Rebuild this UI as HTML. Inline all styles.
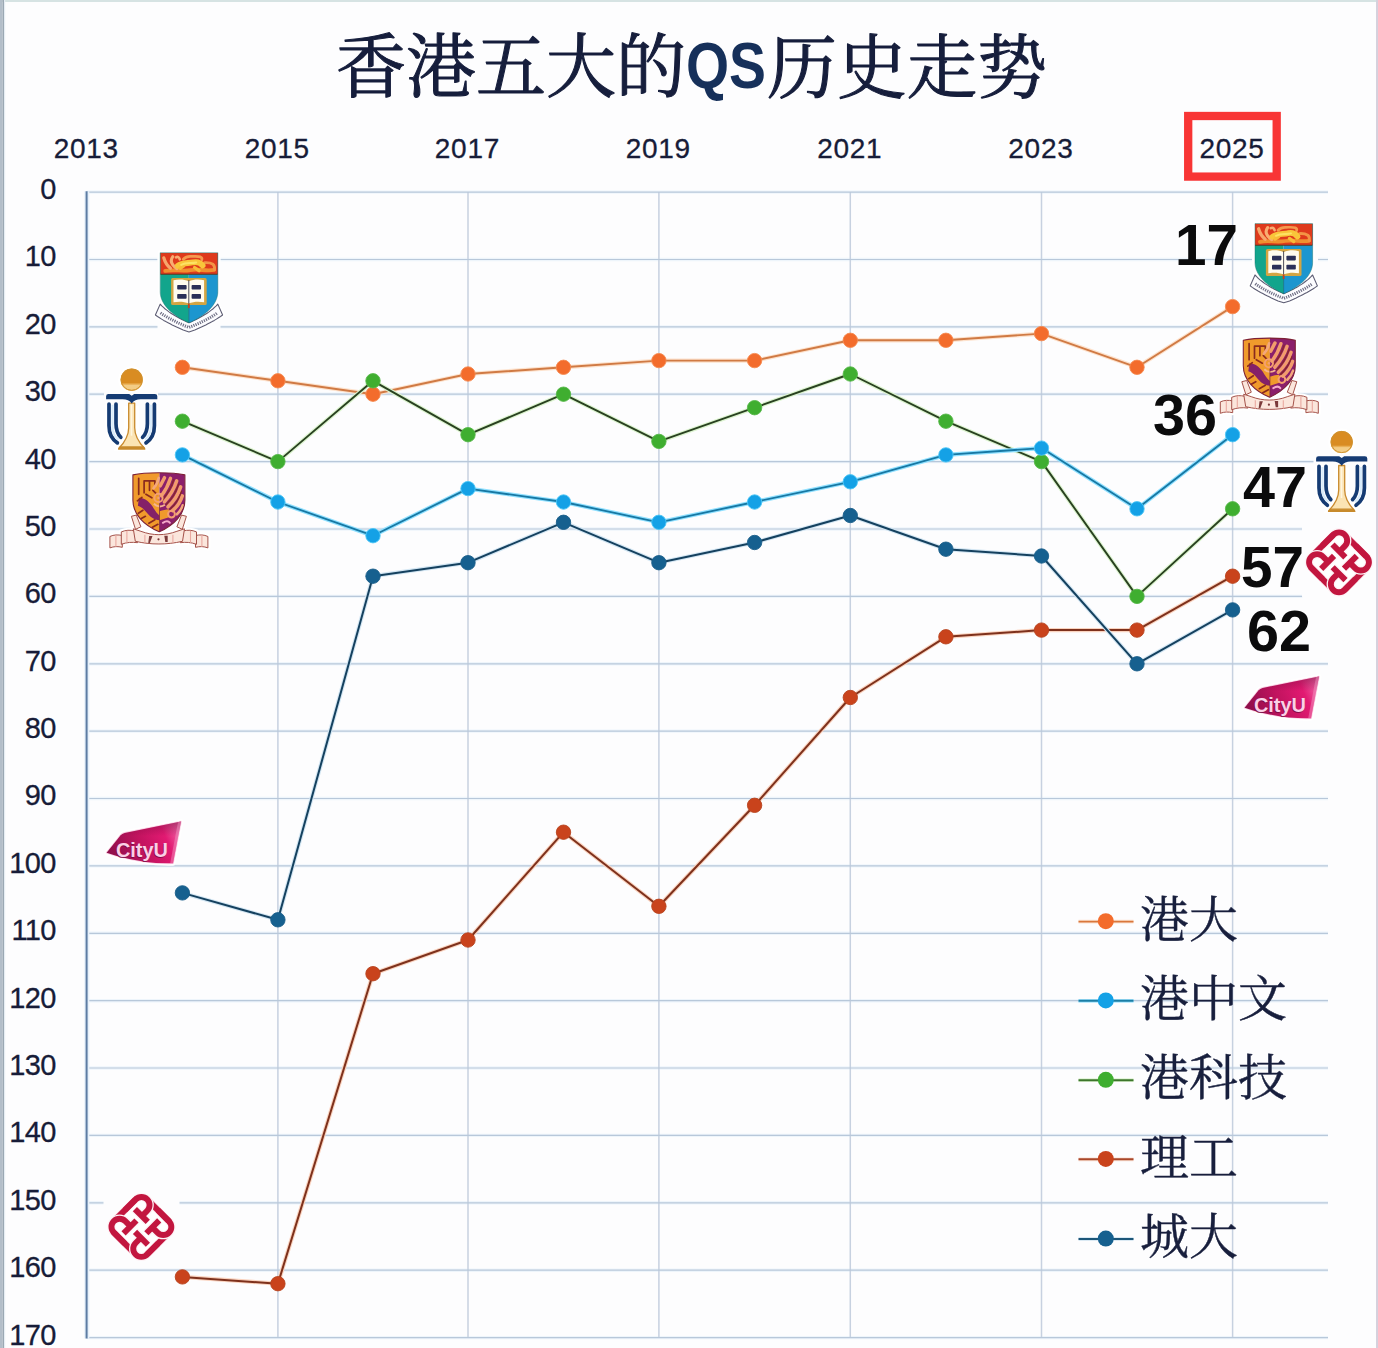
<!DOCTYPE html>
<html lang="zh">
<head>
<meta charset="utf-8">
<title>香港五大的QS历史走势</title>
<style>
html,body{margin:0;padding:0;background:#fdfdfe;}
body{width:1378px;height:1348px;overflow:hidden;font-family:"Liberation Sans",sans-serif;}
svg{display:block;}
</style>
</head>
<body>
<svg width="1378" height="1348" viewBox="0 0 1378 1348" role="img" aria-label="香港五大的QS历史走势 — QS ranking trend 2014-2025 for HKU, CUHK, HKUST, PolyU and CityU">
<rect width="1378" height="1348" fill="#fdfdfe"/>
<rect x="0" y="0" width="1378" height="2" fill="#d6e3e3"/>
<rect x="0" y="0" width="2.6" height="1348" fill="#b3bec9"/>
<rect x="2.6" y="0" width="1.4" height="1348" fill="#9ba8b3"/>
<rect x="4" y="0" width="1.2" height="1348" fill="#e6edf3"/>
<rect x="1376" y="0" width="2" height="1348" fill="#d6d1dd"/>
<path d="M86.8 192.1H1328.0M86.8 259.5H1328.0M86.8 326.9H1328.0M86.8 394.2H1328.0M86.8 461.6H1328.0M86.8 529.0H1328.0M86.8 596.4H1328.0M86.8 663.8H1328.0M86.8 731.1H1328.0M86.8 798.5H1328.0M86.8 865.9H1328.0M86.8 933.3H1328.0M86.8 1000.7H1328.0M86.8 1068.0H1328.0M86.8 1135.4H1328.0M86.8 1202.8H1328.0M86.8 1270.2H1328.0M86.8 1337.6H1328.0" stroke="#eef5fb" stroke-width="3.4" fill="none"/>
<path d="M277.9 192.1V1337.6M468.0 192.1V1337.6M658.9 192.1V1337.6M850.3 192.1V1337.6M1041.5 192.1V1337.6M1232.6 192.1V1337.6" stroke="#c7d1e0" stroke-width="1.5" fill="none"/>
<path d="M86.8 192.1H1328.0M86.8 259.5H1328.0M86.8 326.9H1328.0M86.8 394.2H1328.0M86.8 461.6H1328.0M86.8 529.0H1328.0M86.8 596.4H1328.0M86.8 663.8H1328.0M86.8 731.1H1328.0M86.8 798.5H1328.0M86.8 865.9H1328.0M86.8 933.3H1328.0M86.8 1000.7H1328.0M86.8 1068.0H1328.0M86.8 1135.4H1328.0M86.8 1202.8H1328.0M86.8 1270.2H1328.0M86.8 1337.6H1328.0" stroke="#b8c8da" stroke-width="1.2" fill="none"/>
<path d="M86.8 191.3V1338.4" stroke="#e6f0fa" stroke-width="5" fill="none"/>
<path d="M86.6 191.3V1338.4" stroke="#5d7ca3" stroke-width="2" fill="none"/>
<g fill="#fdfdfe"><rect x="157.5" y="250" width="63" height="82" rx="3"/><rect x="104" y="366" width="54" height="86" rx="3"/><rect x="130.5" y="470" width="57" height="72" rx="3"/><rect x="103.5" y="1189" width="76" height="75" rx="3"/><rect x="104" y="818" width="80" height="46" rx="3"/><rect x="1252" y="221" width="66" height="84" rx="3"/><rect x="1241" y="336" width="57" height="72" rx="3"/><rect x="1313.5" y="428" width="62" height="88" rx="3"/><rect x="1302" y="525" width="74" height="74" rx="3"/><rect x="1242" y="674" width="80" height="46" rx="3"/></g>
<g font-family="'Liberation Sans', sans-serif" font-size="28" fill="#171c38" stroke="#171c38" stroke-width="0.3" letter-spacing="0.7">
<text x="86.2" y="157.8" text-anchor="middle">2013</text>
<text x="277.3" y="157.8" text-anchor="middle">2015</text>
<text x="467.4" y="157.8" text-anchor="middle">2017</text>
<text x="658.3" y="157.8" text-anchor="middle">2019</text>
<text x="849.7" y="157.8" text-anchor="middle">2021</text>
<text x="1040.9" y="157.8" text-anchor="middle">2023</text>
<text x="1232.0" y="157.8" text-anchor="middle">2025</text>
</g>
<g font-family="'Liberation Sans', sans-serif" font-size="29" fill="#171c38" stroke="#171c38" stroke-width="0.3" letter-spacing="-0.6" text-anchor="end">
<text x="55.9" y="199.0">0</text>
<text x="55.9" y="266.4">10</text>
<text x="55.9" y="333.8">20</text>
<text x="55.9" y="401.1">30</text>
<text x="55.9" y="468.5">40</text>
<text x="55.9" y="535.9">50</text>
<text x="55.9" y="603.3">60</text>
<text x="55.9" y="670.7">70</text>
<text x="55.9" y="738.0">80</text>
<text x="55.9" y="805.4">90</text>
<text x="55.9" y="872.8">100</text>
<text x="55.9" y="940.2">110</text>
<text x="55.9" y="1007.6">120</text>
<text x="55.9" y="1074.9">130</text>
<text x="55.9" y="1142.3">140</text>
<text x="55.9" y="1209.7">150</text>
<text x="55.9" y="1277.1">160</text>
<text x="55.9" y="1344.5">170</text>
</g>
<path d="M182.4 367.3L277.9 380.8L373.0 394.2L468.0 374.0L563.5 367.3L658.9 360.6L754.6 360.6L850.3 340.3L945.9 340.3L1041.5 333.6L1137.0 367.3L1232.6 306.6" stroke="#fde2cd" stroke-width="4.2" fill="none" stroke-linejoin="round"/>
<path d="M182.4 367.3L277.9 380.8L373.0 394.2L468.0 374.0L563.5 367.3L658.9 360.6L754.6 360.6L850.3 340.3L945.9 340.3L1041.5 333.6L1137.0 367.3L1232.6 306.6" stroke="#d07a44" stroke-width="1.9" fill="none" stroke-linejoin="round"/>
<g fill="#f36c2c" stroke="#f58a50" stroke-width="0.9"><circle cx="182.4" cy="367.3" r="7.2"/><circle cx="277.9" cy="380.8" r="7.2"/><circle cx="373.0" cy="394.2" r="7.2"/><circle cx="468.0" cy="374.0" r="7.2"/><circle cx="563.5" cy="367.3" r="7.2"/><circle cx="658.9" cy="360.6" r="7.2"/><circle cx="754.6" cy="360.6" r="7.2"/><circle cx="850.3" cy="340.3" r="7.2"/><circle cx="945.9" cy="340.3" r="7.2"/><circle cx="1041.5" cy="333.6" r="7.2"/><circle cx="1137.0" cy="367.3" r="7.2"/><circle cx="1232.6" cy="306.6" r="7.2"/></g>
<path d="M182.4 421.2L277.9 461.6L373.0 380.8L468.0 434.7L563.5 394.2L658.9 441.4L754.6 407.7L850.3 374.0L945.9 421.2L1041.5 461.6L1137.0 596.4L1232.6 508.8" stroke="#dcf4cf" stroke-width="4.2" fill="none" stroke-linejoin="round"/>
<path d="M182.4 421.2L277.9 461.6L373.0 380.8L468.0 434.7L563.5 394.2L658.9 441.4L754.6 407.7L850.3 374.0L945.9 421.2L1041.5 461.6L1137.0 596.4L1232.6 508.8" stroke="#294120" stroke-width="1.9" fill="none" stroke-linejoin="round"/>
<g fill="#3fae30" stroke="#56b848" stroke-width="0.9"><circle cx="182.4" cy="421.2" r="7.2"/><circle cx="277.9" cy="461.6" r="7.2"/><circle cx="373.0" cy="380.8" r="7.2"/><circle cx="468.0" cy="434.7" r="7.2"/><circle cx="563.5" cy="394.2" r="7.2"/><circle cx="658.9" cy="441.4" r="7.2"/><circle cx="754.6" cy="407.7" r="7.2"/><circle cx="850.3" cy="374.0" r="7.2"/><circle cx="945.9" cy="421.2" r="7.2"/><circle cx="1041.5" cy="461.6" r="7.2"/><circle cx="1137.0" cy="596.4" r="7.2"/><circle cx="1232.6" cy="508.8" r="7.2"/></g>
<path d="M182.4 454.9L277.9 502.0L373.0 535.7L468.0 488.6L563.5 502.0L658.9 522.3L754.6 502.0L850.3 481.8L945.9 454.9L1041.5 448.1L1137.0 508.8L1232.6 434.7" stroke="#8fe0ff" stroke-width="4.2" fill="none" stroke-linejoin="round"/>
<path d="M182.4 454.9L277.9 502.0L373.0 535.7L468.0 488.6L563.5 502.0L658.9 522.3L754.6 502.0L850.3 481.8L945.9 454.9L1041.5 448.1L1137.0 508.8L1232.6 434.7" stroke="#1778a4" stroke-width="1.8" fill="none" stroke-linejoin="round"/>
<g fill="#14a1e6" stroke="#4cc6f6" stroke-width="0.9"><circle cx="182.4" cy="454.9" r="7.2"/><circle cx="277.9" cy="502.0" r="7.2"/><circle cx="373.0" cy="535.7" r="7.2"/><circle cx="468.0" cy="488.6" r="7.2"/><circle cx="563.5" cy="502.0" r="7.2"/><circle cx="658.9" cy="522.3" r="7.2"/><circle cx="754.6" cy="502.0" r="7.2"/><circle cx="850.3" cy="481.8" r="7.2"/><circle cx="945.9" cy="454.9" r="7.2"/><circle cx="1041.5" cy="448.1" r="7.2"/><circle cx="1137.0" cy="508.8" r="7.2"/><circle cx="1232.6" cy="434.7" r="7.2"/></g>
<path d="M182.4 1276.9L277.9 1283.7L373.0 973.7L468.0 940.0L563.5 832.2L658.9 906.3L754.6 805.3L850.3 697.5L945.9 636.8L1041.5 630.1L1137.0 630.1L1232.6 576.2" stroke="#fad3bf" stroke-width="4.2" fill="none" stroke-linejoin="round"/>
<path d="M182.4 1276.9L277.9 1283.7L373.0 973.7L468.0 940.0L563.5 832.2L658.9 906.3L754.6 805.3L850.3 697.5L945.9 636.8L1041.5 630.1L1137.0 630.1L1232.6 576.2" stroke="#7e311c" stroke-width="2.0" fill="none" stroke-linejoin="round"/>
<g fill="#c9431c" stroke="#b8441f" stroke-width="0.9"><circle cx="182.4" cy="1276.9" r="7.2"/><circle cx="277.9" cy="1283.7" r="7.2"/><circle cx="373.0" cy="973.7" r="7.2"/><circle cx="468.0" cy="940.0" r="7.2"/><circle cx="563.5" cy="832.2" r="7.2"/><circle cx="658.9" cy="906.3" r="7.2"/><circle cx="754.6" cy="805.3" r="7.2"/><circle cx="850.3" cy="697.5" r="7.2"/><circle cx="945.9" cy="636.8" r="7.2"/><circle cx="1041.5" cy="630.1" r="7.2"/><circle cx="1137.0" cy="630.1" r="7.2"/><circle cx="1232.6" cy="576.2" r="7.2"/></g>
<path d="M182.4 892.9L277.9 919.8L373.0 576.2L468.0 562.7L563.5 522.3L658.9 562.7L754.6 542.5L850.3 515.5L945.9 549.2L1041.5 556.0L1137.0 663.8L1232.6 609.9" stroke="#d3e6f3" stroke-width="4.2" fill="none" stroke-linejoin="round"/>
<path d="M182.4 892.9L277.9 919.8L373.0 576.2L468.0 562.7L563.5 522.3L658.9 562.7L754.6 542.5L850.3 515.5L945.9 549.2L1041.5 556.0L1137.0 663.8L1232.6 609.9" stroke="#15415f" stroke-width="2.0" fill="none" stroke-linejoin="round"/>
<g fill="#16608f" stroke="#1b5f8a" stroke-width="0.9"><circle cx="182.4" cy="892.9" r="7.2"/><circle cx="277.9" cy="919.8" r="7.2"/><circle cx="373.0" cy="576.2" r="7.2"/><circle cx="468.0" cy="562.7" r="7.2"/><circle cx="563.5" cy="522.3" r="7.2"/><circle cx="658.9" cy="562.7" r="7.2"/><circle cx="754.6" cy="542.5" r="7.2"/><circle cx="850.3" cy="515.5" r="7.2"/><circle cx="945.9" cy="549.2" r="7.2"/><circle cx="1041.5" cy="556.0" r="7.2"/><circle cx="1137.0" cy="663.8" r="7.2"/><circle cx="1232.6" cy="609.9" r="7.2"/></g>
<g aria-label="香港五大的QS历史走势"><title>香港五大的QS历史走势</title>
<g font-family="'Liberation Serif', 'Noto Serif CJK SC', serif" font-size="70" fill="#161e3c" stroke="#161e3c" stroke-width="1.1" stroke-linejoin="round">
<text x="336" y="91.5">香港五大的</text>
<text x="767" y="92.6">历史走势</text>
</g>
<text x="686" y="88" font-family="'Liberation Sans', sans-serif" font-weight="bold" font-size="64" fill="#16305a" textLength="80" lengthAdjust="spacingAndGlyphs">QS</text>
</g>
<g><g aria-label="港大"><title>港大</title><path d="M1078.5 921.6H1133.5" stroke="#fde4d2" stroke-width="3.8"/><path d="M1078.5 921.6H1133.5" stroke="#d9773c" stroke-width="1.9"/><circle cx="1105.8" cy="921.2" r="8" fill="#f36c2c"/><text x="1140" y="936.5" font-family="'Liberation Serif', 'Noto Serif CJK SC', serif" font-size="49" fill="#181f3d" stroke="#181f3d" stroke-width="0.4">港大</text></g><g aria-label="港中文"><title>港中文</title><path d="M1078.5 1000.8H1133.5" stroke="#a8e7ff" stroke-width="3.8"/><path d="M1078.5 1000.8H1133.5" stroke="#1b7ea6" stroke-width="1.9"/><circle cx="1105.8" cy="1000.4" r="8" fill="#14a1e6"/><text x="1140" y="1015.7" font-family="'Liberation Serif', 'Noto Serif CJK SC', serif" font-size="49" fill="#181f3d" stroke="#181f3d" stroke-width="0.4">港中文</text></g><g aria-label="港科技"><title>港科技</title><path d="M1078.5 1080.2H1133.5" stroke="#def3d3" stroke-width="3.8"/><path d="M1078.5 1080.2H1133.5" stroke="#3d762b" stroke-width="1.9"/><circle cx="1105.8" cy="1079.8" r="8" fill="#3fae30"/><text x="1140" y="1095.1" font-family="'Liberation Serif', 'Noto Serif CJK SC', serif" font-size="49" fill="#181f3d" stroke="#181f3d" stroke-width="0.4">港科技</text></g><g aria-label="理工"><title>理工</title><path d="M1078.5 1159.3H1133.5" stroke="#fbe0d2" stroke-width="3.8"/><path d="M1078.5 1159.3H1133.5" stroke="#a9472a" stroke-width="1.9"/><circle cx="1105.8" cy="1158.9" r="8" fill="#c9431c"/><text x="1140" y="1174.5" font-family="'Liberation Serif', 'Noto Serif CJK SC', serif" font-size="49" fill="#181f3d" stroke="#181f3d" stroke-width="0.4">理工</text></g><g aria-label="城大"><title>城大</title><path d="M1078.5 1239.0H1133.5" stroke="#dbeaf4" stroke-width="3.8"/><path d="M1078.5 1239.0H1133.5" stroke="#1c5679" stroke-width="1.9"/><circle cx="1105.8" cy="1238.6" r="8" fill="#16608f"/><text x="1140" y="1254" font-family="'Liberation Serif', 'Noto Serif CJK SC', serif" font-size="49" fill="#181f3d" stroke="#181f3d" stroke-width="0.4">城大</text></g></g>
<g fill="#0b0b0c" font-family="'Liberation Sans', sans-serif" font-weight="bold" font-size="57">
<text x="1175" y="264.9" textLength="63" lengthAdjust="spacingAndGlyphs">17</text>
<text x="1153" y="435" textLength="64" lengthAdjust="spacingAndGlyphs">36</text>
<text x="1243" y="506.9" textLength="64" lengthAdjust="spacingAndGlyphs">47</text>
<text x="1241" y="587.4" textLength="63" lengthAdjust="spacingAndGlyphs">57</text>
<text x="1247" y="651" textLength="64" lengthAdjust="spacingAndGlyphs">62</text>
</g><rect x="1188.2" y="116" width="88.5" height="60.6" fill="none" stroke="#f83535" stroke-width="8.3"/>
<defs>
<g id="hku">
 <path d="M0 0H57.6V39C57.6 52 45 63 28.8 70.1C12.6 63 0 52 0 39Z" fill="#fff" stroke="#fff" stroke-width="5" stroke-linejoin="round"/>
 <path d="M-4.8 62.3L-2.7 63.8L-0.7 65.1L1.4 66.4L3.5 67.7L5.6 68.9L7.8 70.0L9.9 71.1L12.0 72.2L14.2 73.2L16.4 74.3L18.6 75.3L20.8 76.3L23.0 77.3L28.8 79.2L34.6 77.3L36.8 76.3L39.0 75.3L41.2 74.3L43.4 73.2L45.6 72.2L47.7 71.1L49.8 70.0L52.0 68.9L54.1 67.7L56.2 66.4L58.3 65.1L60.3 63.8L62.4 62.3L57.6 51.4L56.0 53.1L54.3 54.7L52.6 56.3L50.7 57.7L48.8 59.2L46.9 60.5L44.8 61.8L42.7 63.1L40.5 64.3L38.3 65.6L36.0 66.7L33.6 67.9L31.2 69.0L28.8 70.1L26.4 69.0L24.0 67.9L21.6 66.7L19.3 65.6L17.1 64.3L14.9 63.1L12.8 61.8L10.7 60.5L8.8 59.2L6.9 57.7L5.0 56.3L3.3 54.7L1.6 53.1L-0.0 51.4Z" fill="#fff" stroke="#fff" stroke-width="4.5" stroke-linejoin="round"/>
 <path d="M-4.8 62.3L-2.7 63.8L-0.7 65.1L1.4 66.4L3.5 67.7L5.6 68.9L7.8 70.0L9.9 71.1L12.0 72.2L14.2 73.2L16.4 74.3L18.6 75.3L20.8 76.3L23.0 77.3L28.8 79.2L34.6 77.3L36.8 76.3L39.0 75.3L41.2 74.3L43.4 73.2L45.6 72.2L47.7 71.1L49.8 70.0L52.0 68.9L54.1 67.7L56.2 66.4L58.3 65.1L60.3 63.8L62.4 62.3L57.6 51.4L56.0 53.1L54.3 54.7L52.6 56.3L50.7 57.7L48.8 59.2L46.9 60.5L44.8 61.8L42.7 63.1L40.5 64.3L38.3 65.6L36.0 66.7L33.6 67.9L31.2 69.0L28.8 70.1L26.4 69.0L24.0 67.9L21.6 66.7L19.3 65.6L17.1 64.3L14.9 63.1L12.8 61.8L10.7 60.5L8.8 59.2L6.9 57.7L5.0 56.3L3.3 54.7L1.6 53.1L-0.0 51.4Z" fill="#fdfdff" stroke="#5d5d74" stroke-width="1.1" stroke-linejoin="round"/>
 <path d="M0.3 60.2L2.1 61.5L3.9 62.6L5.7 63.7L7.5 64.8L9.4 65.8L11.3 66.8L13.2 67.8L15.1 68.7L17.0 69.7L19.0 70.6L21.0 71.5L23.0 72.4L25.0 73.3L28.8 74.7L32.6 73.3L34.6 72.4L36.6 71.5L38.6 70.6L40.6 69.7L42.5 68.7L44.4 67.8L46.3 66.8L48.2 65.8L50.1 64.8L51.9 63.7L53.7 62.6L55.5 61.5L57.3 60.2" fill="none" stroke="#707086" stroke-width="3.0" stroke-dasharray="1.2 1.1"/>
 <clipPath id="hkuSh"><path d="M0 0H57.6V39C57.6 52 45 63 28.8 70.1C12.6 63 0 52 0 39Z"/></clipPath>
 <g clip-path="url(#hkuSh)">
  <rect x="-1" y="0" width="29.6" height="72" fill="#12a58c"/>
  <rect x="28.6" y="0" width="30" height="72" fill="#1c96cf"/>
  <rect x="-1" y="-1" width="60" height="22.4" fill="#df3a1c"/>
  <path d="M0 21.6H57.6" stroke="#5a3a20" stroke-width="1.1"/>
  <path d="M28.6 52V71" stroke="#0d6f78" stroke-width="0.8"/>
 </g>
 <g fill="none" stroke-linecap="round" stroke-linejoin="round">
  <path d="M5 18.2C14 16.4 22 19 30 17.4C38 16 46 18.6 54 17.2" stroke="#f0902f" stroke-width="3.8"/>
  <path d="M3.6 5.2C4.8 9.4 7 13 10.2 15.6" stroke="#f7a66c" stroke-width="3.3"/>
  <path d="M12.6 4C10.8 6.5 10.8 9.8 12.6 12.2C13.8 13.8 15.2 15 16.8 16" stroke="#f8ad72" stroke-width="3.1"/>
  <path d="M15.8 4.6C17.4 3.6 19 4.4 19.6 6.6" stroke="#f8ad72" stroke-width="2.6"/>
  <path d="M23 6.6C25 4.6 27.6 3.6 30.4 3.7C33.8 3.8 37 3.2 40.2 4.2C41.6 4.8 42 5.8 41.6 7" stroke="#f59a4e" stroke-width="2.7"/>
  <path d="M44.4 10C47.6 9.8 50.6 10.2 52.8 11.6C54.4 13 54.6 15 54.2 17" stroke="#f39445" stroke-width="2.9"/>
  <path d="M17.6 13.2C22 9.8 28 10.8 33 9.6C37 8.8 40.4 10.2 42.4 12.8" stroke="#f9c53a" stroke-width="5.8"/>
  <path d="M20 15.6L23.6 13.2M34.4 14.8L38.8 18" stroke="#f8bb38" stroke-width="3.3"/>
  <path d="M21 12.2C26 9.6 31 11 36 9.8" stroke="#fde264" stroke-width="2"/>
 </g>
 <rect x="10.9" y="25.4" width="35.6" height="27" rx="1.6" fill="#d3a542"/>
 <path d="M13.3 27.6C18.5 26.2 24 26.6 28.6 28.6C33.2 26.6 38.7 26.2 43.9 27.6V49.6C38.7 48.6 33.2 48.9 28.6 50.6C24 48.9 18.5 48.6 13.3 49.6Z" fill="#fffcef"/>
 <path d="M28.6 27.5V51" stroke="#3a3a4a" stroke-width="0.9"/>
 <g fill="#2b3058"><rect x="17" y="32.2" width="9.4" height="4.6" rx="0.8"/><rect x="31.4" y="32.2" width="9.4" height="4.6" rx="0.8"/><rect x="17" y="41.2" width="9.4" height="4.8" rx="0.8"/><rect x="31.4" y="41.2" width="9.4" height="4.8" rx="0.8"/></g>
 <path d="M28.6 51V55.4" stroke="#c8401e" stroke-width="1.8"/>
 <path d="M0 0H57.6V39C57.6 52 45 63 28.8 70.1C12.6 63 0 52 0 39Z" fill="none" stroke="#0f6e6a" stroke-opacity="0.55" stroke-width="0.8"/>
</g>
<g id="ust">
 <g fill="none" stroke="#fff" stroke-width="7.5" stroke-linecap="round"><path d="M-22.7 24.5V46C-22.7 55 -19 60 -14.3 63.5M22.7 24.5V46C22.7 55 19 60 14.3 63.5"/></g>
 <circle cx="0" cy="0" r="13.4" fill="#fff"/>
 <path d="M-15 69.6C-9 63 -6 57 -6 50V28H6V50C6 57 9 63 15 69.6Z" fill="#fff" stroke="#fff" stroke-width="3"/>
 <circle cx="0" cy="0" r="11.1" fill="#d98c22"/>
 <path d="M-10.2 4.4A11.1 11.1 0 0 0 10.2 4.4Z" fill="#f3cd86"/>
 <path d="M-10.2 4.4H10.2" stroke="#e9b055" stroke-width="1.4"/>
 <circle cx="0" cy="0" r="10.6" fill="none" stroke="#cf922f" stroke-width="1"/>
 <path d="M-3 23.5V48C-3 57 -7.5 63 -12.8 68.6H12.8C7.5 63 3 57 3 48V23.5Z" fill="#fbe4b4" stroke="#c98a2d" stroke-width="1.3" stroke-linejoin="round"/>
 <path d="M-11.6 67.2H11.6L13.2 69.4H-13.2Z" fill="#c78a2c" stroke="#c78a2c" stroke-width="1.2" stroke-linejoin="round"/>
 <path d="M-0.2 25V56" stroke="#fff6df" stroke-width="1.6"/>
 <path d="M-23.2 14.2H-2.5L0 16L2.5 14.2H23.2A2.4 2.4 0 0 1 25.6 16.6V19.6H9C5 19.6 2 21 0 23.8C-2 21 -5 19.6 -9 19.6H-25.6V16.6A2.4 2.4 0 0 1 -23.2 14.2Z" fill="#153b73"/>
 <g fill="none" stroke="#153b73" stroke-width="3.7" stroke-linecap="round">
  <path d="M-22.7 24.3V46C-22.7 55 -19 60 -14.3 63.2"/><path d="M-15.7 24.3V44C-15.7 51 -13.4 55 -10.9 57.6"/>
  <path d="M22.7 24.3V46C22.7 55 19 60 14.3 63.2"/><path d="M15.7 24.3V44C15.7 51 13.4 55 10.9 57.6"/>
 </g>
 <g fill="none" stroke="#d9ecfb" stroke-width="2.2"><path d="M-19.2 25V47C-19.2 53.5 -16.5 57.5 -13.2 60"/><path d="M19.2 25V47C19.2 53.5 16.5 57.5 13.2 60"/></g>
</g>
<g id="cuhk">
 <path d="M0 1.6C8 -0.3 18 -0.6 26 -0.6C34 -0.6 44 -0.3 52 1.6V27C52 41 41 52 26.4 58.5C11 52 0 41 0 27Z" fill="#fff" stroke="#fff" stroke-width="5" stroke-linejoin="round"/>
 <g fill="#fff" stroke="#fff" stroke-width="5" stroke-linejoin="round">
  <path d="M-1.5 43L3.4 41.8L8 53.5L2.6 56Z"/><path d="M53.5 43L48.6 41.8L44 53.5L49.4 56Z"/>
  <path d="M-23 63.2C-19 61.3 -15 61.3 -10.6 62.2V74C-15 73 -19 73 -23 74.6Z"/>
  <path d="M75 63.2C71 61.3 67 61.3 62.6 62.2V74C67 73 71 73 75 74.6Z"/>
  <path d="M-11.6 58.6C-7 56.6 -3 56.6 1.8 57.6L4.6 69.4C-1 68.6 -6 69 -11.6 71Z"/>
  <path d="M63.6 58.6C59 56.6 55 56.6 50.2 57.6L47.4 69.4C53 68.6 58 69 63.6 71Z"/>
  <path d="M0.4 55.5L8 58C20 62.5 32 62.5 44 58L51.6 55.5L49.6 68C34 71.6 18 71.6 2.4 68Z"/>
 </g>
 <g fill="#fbe6dc" stroke="#a4524a" stroke-width="1" stroke-linejoin="round">
  <path d="M-1.5 43L3.4 41.8L8 53.5L2.6 56Z"/><path d="M53.5 43L48.6 41.8L44 53.5L49.4 56Z"/>
  <path d="M-23 63.2C-19 61.3 -15 61.3 -10.6 62.2V74C-15 73 -19 73 -23 74.6Z"/>
  <path d="M75 63.2C71 61.3 67 61.3 62.6 62.2V74C67 73 71 73 75 74.6Z"/>
  <path d="M-11.6 58.6C-7 56.6 -3 56.6 1.8 57.6L4.6 69.4C-1 68.6 -6 69 -11.6 71Z"/>
  <path d="M63.6 58.6C59 56.6 55 56.6 50.2 57.6L47.4 69.4C53 68.6 58 69 63.6 71Z"/>
  <path d="M0.4 55.5L8 58C20 62.5 32 62.5 44 58L51.6 55.5L49.6 68C34 71.6 18 71.6 2.4 68Z"/>
 </g>
 <g fill="none" stroke="#e9a9a0" stroke-width="1.1"><path d="M-17 62V73.5M-6 57.5V69.5M57.6 57.5V69.5M69 62V73.5M12 61.5V70M40 61.5V70"/></g>
 <g fill="#7b3a3a"><path d="M16.2 62.6H19.6L17 69.6H15.4Z"/><path d="M31.4 62.4H34.8V68.6H32.4Z"/><circle cx="25.6" cy="66" r="1.1"/></g>
 <clipPath id="cuSh"><path d="M0 1.6C8 -0.3 18 -0.6 26 -0.6C34 -0.6 44 -0.3 52 1.6V27C52 41 41 52 26.4 58.5C11 52 0 41 0 27Z"/></clipPath>
 <g clip-path="url(#cuSh)">
  <rect x="-1" y="-2" width="27.6" height="62" fill="#f09a2c"/>
  <rect x="26.6" y="-2" width="27" height="62" fill="#8b1f6b"/>
  <path d="M6 24.5C12 25 16 28 19.5 33C22 37 24 40.5 27 42.5V47C21 46.5 17 43.5 13.5 39C11 36 8.5 33.5 5 32.5Z" fill="#842068"/>
  <path d="M26.6 38C30 37 33 36 36 36V44L26.6 47Z" fill="#f09a2c"/>
  <g fill="none" stroke="#8a2a1e" stroke-width="1.7" stroke-linecap="round">
   <path d="M5.8 5V21M11.2 7.5V19.5M11.2 7.5H22M16.6 7.5V17M22 7.5V13.5"/>
   <path d="M4.5 27.5L9 24M5.5 40L10 37M8 45.5L12.5 43M16 50L22 46.5M19.5 54L25 51"/>
   <path d="M13 21L19 24.5M20 17L24 21"/>
  </g>
  <g fill="none" stroke="#f29c6c" stroke-width="3.5" stroke-linecap="round">
   <path d="M28.6 22.5C32 18 35.5 11.5 37.6 5"/><path d="M31.5 28.6C36.6 23 41.4 15 43.8 7.6"/><path d="M35 33.6C40.4 28.6 45.4 21 47.8 13.6"/><path d="M39.6 37.4C43.6 34 47.6 28.4 49.4 22.6"/>
   <path d="M27.4 12.5L31.6 4.4"/>
  </g>
  <g fill="none" stroke="#f4a77c" stroke-width="2.6" stroke-linecap="round"><path d="M20.6 15C23.4 12 25 8.6 25.8 4.6"/><path d="M44 41C46.6 38.6 48.6 35.6 49.8 32"/></g>
  <g fill="none" stroke="#8a2a1e" stroke-width="1.1" stroke-linecap="round"><path d="M30 26C34.6 20.6 38.6 13.6 40.8 6.4M33.2 31.4C38.6 26 43.4 18.2 45.8 10.6M37.2 35.8C42 31.4 46.4 24.8 48.6 18"/></g>
  <circle cx="25.6" cy="24.6" r="4.1" fill="none" stroke="#f4a071" stroke-width="1.9"/>
  <circle cx="25.6" cy="24.6" r="1.2" fill="#f4a071"/>
  <path d="M21 30.5C24 33.5 28.5 34 32 31.5" fill="none" stroke="#f6b48e" stroke-width="2"/>
  <circle cx="38.6" cy="40.8" r="3.4" fill="none" stroke="#f4a071" stroke-width="2"/>
  <path d="M30 49.5C33 47.5 35.5 47.5 37 49.5" fill="none" stroke="#f6aacb" stroke-width="2" stroke-linecap="round"/>
  <path d="M26.6 30V60" stroke="#7a2430" stroke-width="0.7"/>
 </g>
 <path d="M0 1.6C8 -0.3 18 -0.6 26 -0.6C34 -0.6 44 -0.3 52 1.6V27C52 41 41 52 26.4 58.5C11 52 0 41 0 27Z" fill="none" stroke="#7d2136" stroke-width="1.1" stroke-linejoin="round"/>
</g>
<g id="polyu">
 <g transform="rotate(45)" fill="none">
  <rect x="-28" y="-28" width="56" height="56" rx="13" fill="#fff"/>
  <path id="pArm" d="M-23.5 14V-15.4"/>
  <path id="pArch" d="M-23.5 -15.5A8.1 8.1 0 0 1 -7.3 -15.5V-8M-17.2 -8H1"/>
  <g stroke="#fbe3ea" stroke-width="7.6"><use href="#pArm"/><use href="#pArm" transform="rotate(90)"/><use href="#pArm" transform="rotate(180)"/><use href="#pArm" transform="rotate(270)"/></g>
  <g stroke="#c2163f" stroke-width="5.9"><use href="#pArm"/><use href="#pArm" transform="rotate(90)"/><use href="#pArm" transform="rotate(180)"/><use href="#pArm" transform="rotate(270)"/></g>
  <g stroke="#fdf3f6" stroke-width="8.5"><use href="#pArch"/><use href="#pArch" transform="rotate(90)"/><use href="#pArch" transform="rotate(180)"/><use href="#pArch" transform="rotate(270)"/></g>
  <g stroke="#c2163f" stroke-width="5.9"><use href="#pArch"/><use href="#pArch" transform="rotate(90)"/><use href="#pArch" transform="rotate(180)"/><use href="#pArch" transform="rotate(270)"/></g>
  <path id="pSeam" d="M-23.5 0V-17"/>
  <g stroke="#c2163f" stroke-width="5.9"><use href="#pSeam"/><use href="#pSeam" transform="rotate(90)"/><use href="#pSeam" transform="rotate(180)"/><use href="#pSeam" transform="rotate(270)"/></g>
 </g>
</g>
<g id="cityu">
 <defs>
  <linearGradient id="cityG" x1="0" y1="0.6" x2="1" y2="0.35"><stop offset="0" stop-color="#8e0e4a"/><stop offset="0.45" stop-color="#c2135f"/><stop offset="0.8" stop-color="#e21a72"/><stop offset="1" stop-color="#ee5fa2"/></linearGradient>
  <linearGradient id="cityH" x1="0" y1="0" x2="0" y2="1"><stop offset="0" stop-color="#7a0b3e" stop-opacity="0.55"/><stop offset="0.35" stop-color="#7a0b3e" stop-opacity="0"/></linearGradient>
 </defs>
 <path d="M0 31.2L13.8 13.8Q15.5 11.9 18 11.3L74.4 0L66.4 41.7Q40 42.5 9.4 34.1Z" fill="#fff" stroke="#fff" stroke-width="5" stroke-linejoin="round"/>
 <path d="M0 31.2L13.8 13.8Q15.5 11.9 18 11.3L74.4 0L66.4 41.7Q40 42.5 9.4 34.1Z" fill="#fbd3e6" stroke="#fbd3e6" stroke-width="1.6" stroke-linejoin="round"/>
 <path d="M0 31.2L13.8 13.8Q15.5 11.9 18 11.3L74.4 0L66.4 41.7Q40 42.5 9.4 34.1Z" fill="url(#cityG)"/>
 <path d="M0 31.2L13.8 13.8Q15.5 11.9 18 11.3L74.4 0L66.4 41.7Q40 42.5 9.4 34.1Z" fill="url(#cityH)"/>
 <path d="M74.4 0L66.4 41.7L63.6 41.7L71.4 0.6Z" fill="#f59cc6" fill-opacity="0.45"/>
 <g aria-label="CityU"><title>CityU</title>
  <text x="8.6" y="36.3" font-family="'Liberation Sans', sans-serif" font-weight="bold" font-size="20" fill="#6f0b3d" fill-opacity="0.75" textLength="52" lengthAdjust="spacingAndGlyphs">CityU</text>
  <text x="9.3" y="35.5" font-family="'Liberation Sans', sans-serif" font-weight="bold" font-size="20" fill="#fbd0e6" textLength="52" lengthAdjust="spacingAndGlyphs">CityU</text>
 </g>
</g></defs><use href="#hku" x="160.2" y="252.7"/><use href="#hku" x="1255.0" y="223.6"/><use href="#ust" x="131.7" y="379.7"/><use href="#ust" x="1341.7" y="442.0"/><use href="#cuhk" x="132.9" y="473.3"/><use href="#cuhk" x="1243.3" y="338.7"/><use href="#polyu" x="141.4" y="1226.9"/><use href="#polyu" x="1339.0" y="562.3"/><use href="#cityu" x="106.6" y="821.6"/><use href="#cityu" x="1244.6" y="676.6"/>
</svg>
</body>
</html>
